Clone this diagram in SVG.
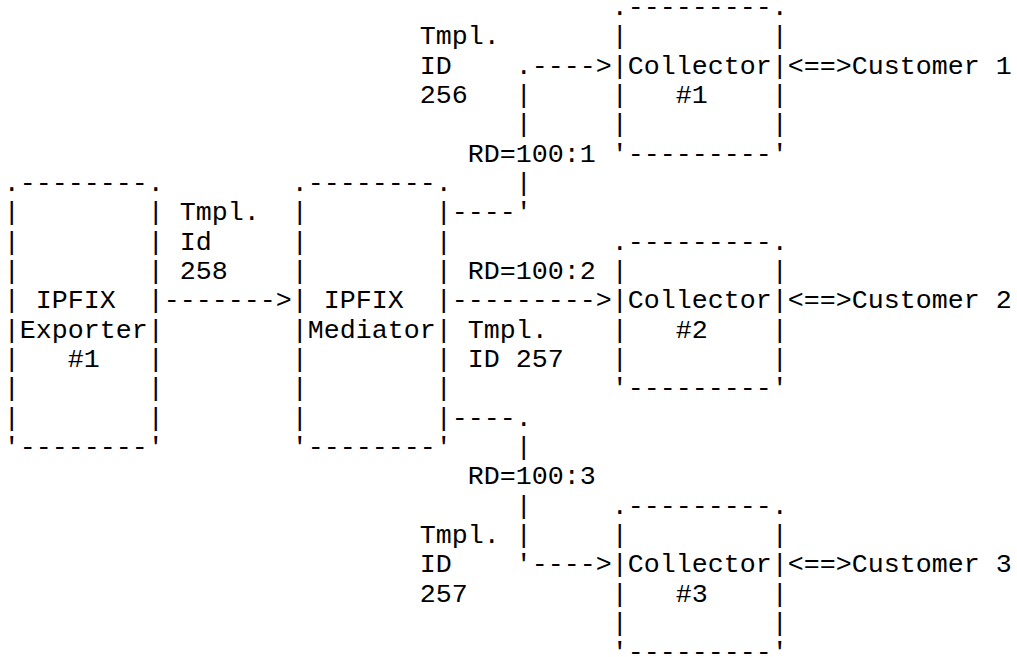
<svg xmlns="http://www.w3.org/2000/svg" width="1017" height="657" viewBox="0 0 1017 657">
<style>
text{font-family:"Liberation Mono","Courier New",monospace;font-size:26.67px;fill:#000;white-space:pre}
</style>
<rect width="1017" height="657" fill="#fff"/>
<g id="exporter">
<text><tspan x="3.7" y="191">.--------.</tspan><tspan x="3.7" y="220.33">|</tspan><tspan x="147.7" y="220.33">|</tspan><tspan x="3.7" y="249.67">|</tspan><tspan x="147.7" y="249.67">|</tspan><tspan x="3.7" y="279">|</tspan><tspan x="147.7" y="279">|</tspan><tspan x="3.7" y="308.33">|</tspan><tspan x="35.7" y="308.33">IPFIX</tspan><tspan x="147.7" y="308.33">|</tspan><tspan x="3.7" y="337.67">|Exporter|</tspan><tspan x="3.7" y="367">|</tspan><tspan x="67.7" y="367">#1</tspan><tspan x="147.7" y="367">|</tspan><tspan x="3.7" y="396.33">|</tspan><tspan x="147.7" y="396.33">|</tspan><tspan x="3.7" y="425.67">|</tspan><tspan x="147.7" y="425.67">|</tspan><tspan x="3.7" y="455">'--------'</tspan></text>
</g>
<g id="mediator">
<text><tspan x="291.7" y="191">.--------.</tspan><tspan x="291.7" y="220.33">|</tspan><tspan x="435.7" y="220.33">|</tspan><tspan x="291.7" y="249.67">|</tspan><tspan x="435.7" y="249.67">|</tspan><tspan x="291.7" y="279">|</tspan><tspan x="435.7" y="279">|</tspan><tspan x="291.7" y="308.33">|</tspan><tspan x="323.7" y="308.33">IPFIX</tspan><tspan x="435.7" y="308.33">|</tspan><tspan x="291.7" y="337.67">|Mediator|</tspan><tspan x="291.7" y="367">|</tspan><tspan x="435.7" y="367">|</tspan><tspan x="291.7" y="396.33">|</tspan><tspan x="435.7" y="396.33">|</tspan><tspan x="291.7" y="425.67">|</tspan><tspan x="435.7" y="425.67">|</tspan><tspan x="291.7" y="455">'--------'</tspan></text>
</g>
<g id="collector1">
<text><tspan x="611.7" y="15">.---------.</tspan><tspan x="611.7" y="44.33">|</tspan><tspan x="771.7" y="44.33">|</tspan><tspan x="611.7" y="73.67">|Collector|</tspan><tspan x="611.7" y="103">|</tspan><tspan x="675.7" y="103">#1</tspan><tspan x="771.7" y="103">|</tspan><tspan x="611.7" y="132.33">|</tspan><tspan x="771.7" y="132.33">|</tspan><tspan x="611.7" y="161.67">'---------'</tspan></text>
</g>
<g id="collector2">
<text><tspan x="611.7" y="249.67">.---------.</tspan><tspan x="611.7" y="279">|</tspan><tspan x="771.7" y="279">|</tspan><tspan x="611.7" y="308.33">|Collector|</tspan><tspan x="611.7" y="337.67">|</tspan><tspan x="675.7" y="337.67">#2</tspan><tspan x="771.7" y="337.67">|</tspan><tspan x="611.7" y="367">|</tspan><tspan x="771.7" y="367">|</tspan><tspan x="611.7" y="396.33">'---------'</tspan></text>
</g>
<g id="collector3">
<text><tspan x="611.7" y="513.67">.---------.</tspan><tspan x="611.7" y="543">|</tspan><tspan x="771.7" y="543">|</tspan><tspan x="611.7" y="572.33">|Collector|</tspan><tspan x="611.7" y="601.67">|</tspan><tspan x="675.7" y="601.67">#3</tspan><tspan x="771.7" y="601.67">|</tspan><tspan x="611.7" y="631">|</tspan><tspan x="771.7" y="631">|</tspan><tspan x="611.7" y="660.33">'---------'</tspan></text>
</g>
<g id="customer1"><text x="851.7" y="73.67">Customer 1</text></g>
<g id="customer2"><text x="851.7" y="308.33">Customer 2</text></g>
<g id="customer3"><text x="851.7" y="572.33">Customer 3</text></g>
<g id="connectors">
<text><tspan x="163.7" y="308.33">-------&gt;</tspan><tspan x="451.7" y="220.33">----'</tspan><tspan x="515.7" y="191">|</tspan><tspan x="515.7" y="132.33">|</tspan><tspan x="515.7" y="103">|</tspan><tspan x="515.7" y="73.67">.----&gt;</tspan><tspan x="451.7" y="308.33">---------&gt;</tspan><tspan x="451.7" y="425.67">----.</tspan><tspan x="515.7" y="455">|</tspan><tspan x="515.7" y="513.67">|</tspan><tspan x="515.7" y="543">|</tspan><tspan x="515.7" y="572.33">'----&gt;</tspan><tspan x="787.7" y="73.67">&lt;==&gt;</tspan><tspan x="787.7" y="308.33">&lt;==&gt;</tspan><tspan x="787.7" y="572.33">&lt;==&gt;</tspan></text>
</g>
<g id="labels">
<text><tspan x="419.7" y="44.33">Tmpl.</tspan><tspan x="419.7" y="73.67">ID</tspan><tspan x="419.7" y="103">256</tspan><tspan x="467.7" y="161.67">RD=100:1</tspan><tspan x="179.7" y="220.33">Tmpl.</tspan><tspan x="179.7" y="249.67">Id</tspan><tspan x="179.7" y="279">258</tspan><tspan x="467.7" y="279">RD=100:2</tspan><tspan x="467.7" y="337.67">Tmpl.</tspan><tspan x="467.7" y="367">ID 257</tspan><tspan x="467.7" y="484.33">RD=100:3</tspan><tspan x="419.7" y="543">Tmpl.</tspan><tspan x="419.7" y="572.33">ID</tspan><tspan x="419.7" y="601.67">257</tspan></text>
</g>
</svg>
